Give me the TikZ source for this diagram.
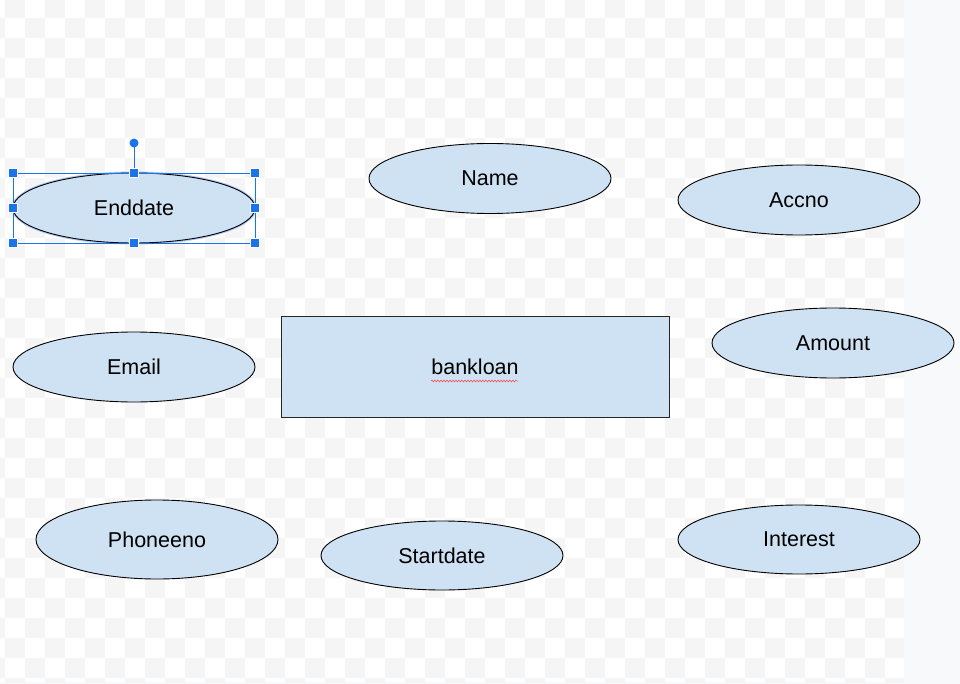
\documentclass[tikz,border=0pt]{standalone}
\usepackage{fontspec}
\setmainfont{Liberation Sans}
\usetikzlibrary{shapes.geometric,decorations.pathmorphing}
\definecolor{fillblue}{HTML}{CFE2F3}
\definecolor{checkgray}{HTML}{F5F5F5}
\definecolor{sideback}{HTML}{F8F9FB}
\definecolor{selblue}{HTML}{1A73E8}
\definecolor{haloblue}{HTML}{A9C8F5}
\tikzset{
  attr/.style={ellipse, draw=black, line width=0.9pt, fill=fillblue,
    minimum width=242pt, minimum height=70pt, inner sep=0pt,
    font=\fontsize{21.5}{25}\selectfont},
  entity/.style={rectangle, draw=black!85, line width=0.9pt, fill=fillblue,
    minimum width=388pt, minimum height=101pt, inner sep=0pt,
    font=\fontsize{21.5}{25}\selectfont},
  handle/.style={rectangle, fill=selblue, draw=white, line width=0.4pt,
    minimum size=9pt, inner sep=0pt},
  selline/.style={draw=selblue, line width=0.9pt}
}
\begin{document}
\begin{tikzpicture}[x=1pt,y=-1pt]
\useasboundingbox (0,0) rectangle (960,684);
% background
\fill[sideback] (0,0) rectangle (960,684);
\fill[white] (0,0) rectangle (904,682);
\begin{scope}
  \clip (0,0) rectangle (904,682);
  \foreach \i in {-1,...,44}{
    \foreach \j in {0,...,34}{
      \pgfmathtruncatemacro\p{mod(\i+\j+2,2)}
      \ifnum\p=0
        \fill[checkgray] (5+20*\i,-2+20*\j) rectangle (25+20*\i,18+20*\j);
      \fi
    }
  }
\end{scope}
% selection halo behind Enddate
\node[ellipse, draw=haloblue, line width=3pt, minimum width=242pt,
  minimum height=70pt, inner sep=0pt] (halo) at (134,208) {};
% attributes
\node[attr] (enddate) at (134,208) {Enddate};
\node[attr] (name) at (490,178.5) {Name};
\node[attr] (accno) at (799,200) {Accno};
\node[attr] (email) at (134,367) {Email};
\node[attr] (amount) at (833,343) {Amount};
\node[attr, minimum height=79pt] (phone) at (157,539.5) {Phoneeno};
\node[attr, minimum height=69pt] (start) at (442,555.5) {Startdate};
\node[attr, minimum height=69pt] (interest) at (799,539.5) {Interest};
% entity
\node[entity] (bank) at (475,366.5) {bankloan};
\coordinate (ulA) at (431,381);
\coordinate (ulB) at (518,381);
\draw[red!75, line width=0.5pt, decorate,
  decoration={snake, amplitude=0.9pt, segment length=3pt}] (ulA) -- (ulB);
% selection frame
\coordinate (s1) at (13,173);
\coordinate (s2) at (255,173);
\coordinate (s3) at (255,243);
\coordinate (s4) at (13,243);
\coordinate (rot) at (134,143);
\coordinate (topmid) at (134,173);
\draw[selline] (s1) -- (s2) -- (s3) -- (s4) -- cycle;
\draw[selline] (rot) -- (topmid);
\fill[selblue] (rot) circle (4.5pt);
\foreach \p in {(13,173),(134,173),(255,173),(13,208),(255,208),(13,243),(134,243),(255,243)}
  \node[handle] at \p {};
\end{tikzpicture}
\end{document}
